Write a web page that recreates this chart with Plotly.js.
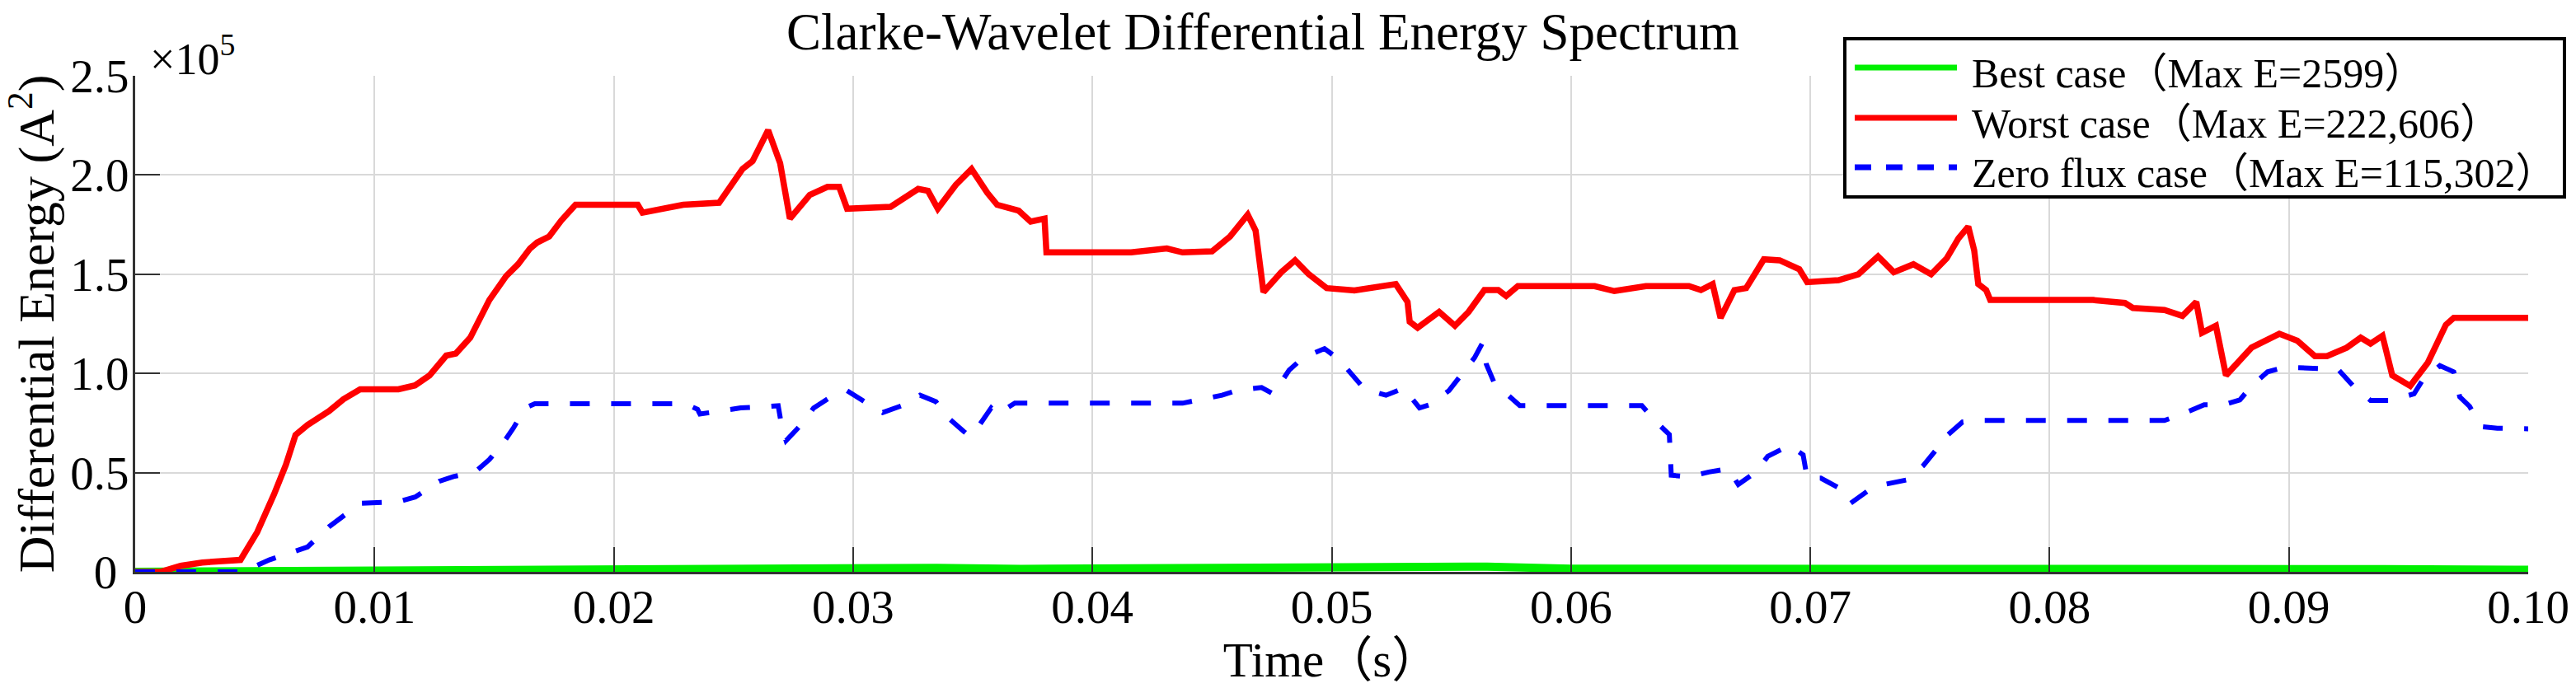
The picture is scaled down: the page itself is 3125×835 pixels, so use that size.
<!DOCTYPE html>
<html>
<head>
<meta charset="utf-8">
<script src="https://cdn.plot.ly/plotly-3.0.1.min.js"></script>
<style>html,body{margin:0;padding:0;background:#fff;}#chart{width:3125px;height:835px;}</style>
</head>
<body>
<div id="chart"></div>
<script>
// ---- Data (time in s, energy in units of 10^5 A^2) ----
const bestT = [0, 0.0025, 0.005, 0.013, 0.0135, 0.02, 0.025, 0.0335, 0.037, 0.045, 0.0537, 0.0565, 0.06, 0.07, 0.08, 0.09, 0.094, 0.1];
const bestE = [0, 0.002, 0.003, 0.005, 0.012, 0.013, 0.015, 0.02, 0.015, 0.016, 0.022, 0.026, 0.016, 0.018, 0.017, 0.015, 0.013, 0.01];

const worstT = [0, 0.00105, 0.0019, 0.0028, 0.0044, 0.0051, 0.0058, 0.0063, 0.0067, 0.0072,
  0.0081, 0.0087, 0.0094, 0.011, 0.0117, 0.0123, 0.013, 0.0134, 0.014, 0.0148,
  0.0155, 0.016, 0.0165, 0.0168, 0.0173, 0.0178, 0.0184, 0.021, 0.0212, 0.0229,
  0.0244, 0.02538, 0.0258, 0.02645, 0.02695, 0.02736, 0.02819, 0.02893, 0.02942, 0.02975,
  0.03157, 0.03272, 0.03313, 0.03354, 0.03429, 0.03495, 0.03561, 0.03602, 0.03692, 0.03742,
  0.038, 0.03808, 0.04162, 0.04311, 0.04377, 0.045, 0.04575, 0.04649, 0.04682, 0.04715,
  0.04789, 0.04847, 0.04904, 0.04979, 0.05095, 0.05194, 0.05268, 0.05317, 0.05326, 0.05359,
  0.05449, 0.05515, 0.05572, 0.05638, 0.05696, 0.05729, 0.05778, 0.06099, 0.06181, 0.06313,
  0.06493, 0.06543, 0.06592, 0.06625, 0.06683, 0.06732, 0.06806, 0.06872, 0.06954, 0.06987,
  0.07118, 0.07201, 0.07283, 0.07349, 0.07431, 0.07505, 0.0757, 0.07619, 0.0766, 0.07685,
  0.07702, 0.07735, 0.07752, 0.08182, 0.08315, 0.08348, 0.0848, 0.08555, 0.08613, 0.08637,
  0.08695, 0.08737, 0.08844, 0.0896, 0.09035, 0.09109, 0.09159, 0.09242, 0.093, 0.09341,
  0.09391, 0.09432, 0.09507, 0.09581, 0.09656, 0.09689, 0.1];
const worstE = [0, 0, 0.03, 0.047, 0.06, 0.2, 0.39, 0.54, 0.69, 0.74,
  0.81, 0.87, 0.92, 0.92, 0.94, 0.99, 1.09, 1.10, 1.18, 1.37,
  1.49, 1.55, 1.63, 1.66, 1.69, 1.77, 1.85, 1.85, 1.81, 1.85,
  1.86, 2.03, 2.07, 2.226, 2.06, 1.78, 1.90, 1.94, 1.94, 1.83,
  1.84, 1.93, 1.92, 1.83, 1.95, 2.03, 1.91, 1.85, 1.82, 1.765,
  1.78, 1.61, 1.61, 1.63, 1.61, 1.615, 1.69, 1.80, 1.72, 1.41,
  1.51, 1.57, 1.50, 1.43, 1.418, 1.44, 1.45, 1.36, 1.26, 1.23,
  1.31, 1.24, 1.31, 1.42, 1.42, 1.39, 1.44, 1.44, 1.415, 1.44,
  1.44, 1.42, 1.45, 1.28, 1.42, 1.43, 1.575, 1.57, 1.525, 1.46,
  1.47, 1.50, 1.59, 1.51, 1.55, 1.50, 1.58, 1.68, 1.74, 1.62,
  1.45, 1.42, 1.37, 1.37, 1.355, 1.33, 1.32, 1.29, 1.36, 1.205,
  1.24, 0.99, 1.13, 1.20, 1.165, 1.087, 1.087, 1.13, 1.18, 1.15,
  1.19, 0.99, 0.937, 1.055, 1.245, 1.28, 1.28];

const zeroT = [0, 0.0045, 0.0056, 0.0072, 0.0081, 0.0094, 0.011, 0.0117, 0.0127, 0.0133,
  0.0142, 0.0148, 0.0154, 0.0158, 0.0163, 0.0167, 0.023, 0.0235, 0.0236, 0.0245,
  0.0253, 0.02621, 0.02687, 0.02703, 0.0272, 0.02794, 0.02835, 0.02918, 0.02975, 0.03058,
  0.03124, 0.03214, 0.0328, 0.03346, 0.03387, 0.03462, 0.03486, 0.03519, 0.03577, 0.03602,
  0.03676, 0.04377, 0.04443, 0.04542, 0.04608, 0.04707, 0.04756, 0.04822, 0.0488, 0.0497,
  0.0503, 0.05095, 0.05137, 0.05227, 0.05301, 0.05367, 0.05408, 0.0549, 0.0554, 0.05597,
  0.0563, 0.05646, 0.05679, 0.05745, 0.05786, 0.06296, 0.06362, 0.06411, 0.06419, 0.06493,
  0.06576, 0.06658, 0.06699, 0.06773, 0.06822, 0.06913, 0.0697, 0.06987, 0.07044, 0.07118,
  0.07168, 0.0725, 0.07308, 0.07406, 0.07472, 0.0753, 0.0757, 0.07636, 0.07702, 0.0848,
  0.08555, 0.08646, 0.08728, 0.08795, 0.08844, 0.08911, 0.08985, 0.09142, 0.09209, 0.09275,
  0.09341, 0.09424, 0.09523, 0.09556, 0.09631, 0.09689, 0.09714, 0.09755, 0.09805, 0.09871,
  0.1];
const zeroE = [0, 0, 0.06, 0.125, 0.227, 0.345, 0.353, 0.377, 0.456, 0.48,
  0.503, 0.566, 0.653, 0.724, 0.826, 0.847, 0.847, 0.819, 0.795, 0.81,
  0.826, 0.831, 0.837, 0.726, 0.661, 0.756, 0.826, 0.89, 0.913, 0.85,
  0.803, 0.842, 0.89, 0.858, 0.787, 0.708, 0.685, 0.724, 0.826, 0.795,
  0.85, 0.85, 0.866, 0.89, 0.916, 0.929, 0.897, 1.016, 1.079, 1.125,
  1.071, 0.984, 0.921, 0.89, 0.926, 0.826, 0.842, 0.913, 0.992, 1.079,
  1.153, 1.047, 0.953, 0.882, 0.838, 0.838, 0.748, 0.692, 0.487, 0.479,
  0.503, 0.519, 0.44, 0.503, 0.582, 0.637, 0.59, 0.472, 0.472, 0.424,
  0.345, 0.416, 0.44, 0.464, 0.535, 0.621, 0.685, 0.755, 0.763, 0.763,
  0.795, 0.842, 0.842, 0.866, 0.937, 1.008, 1.032, 1.024, 1.016, 0.929,
  0.864, 0.864, 0.897, 0.961, 1.039, 1.008, 0.882, 0.834, 0.732, 0.724,
  0.721];

const seriesNames = ['Best case（Max E=2599）', 'Worst case（Max E=222,606）', 'Zero flux case（Max E=115,302）'];
const xTickVals = [0, 0.01, 0.02, 0.03, 0.04, 0.05, 0.06, 0.07, 0.08, 0.09, 0.1];
const xTickText = ['0', '0.01', '0.02', '0.03', '0.04', '0.05', '0.06', '0.07', '0.08', '0.09', '0.10'];
const yTickVals = [0, 0.5, 1.0, 1.5, 2.0, 2.5];
const yTickText = ['0\u00a0', '0.5', '1.0', '1.5', '2.0', '2.5'];

// ---- Styling ----
const FONT = 'Liberation Serif, Times New Roman, Noto Sans CJK SC, serif';
const colors = ['#00f000', '#ff0000', '#0000ff'];
const L = 164, R = 3067, T = 92, B = 694; // plot area in px
const px = v => (v - L) / (R - L);
const py = v => (B - v) / (B - T);

const traces = [
  {x: bestT, y: bestE, name: seriesNames[0], mode: 'lines', line: {color: colors[0], width: 10}},
  {x: worstT, y: worstE, name: seriesNames[1], mode: 'lines', line: {color: colors[1], width: 7.5}},
  {x: zeroT, y: zeroE, name: seriesNames[2], mode: 'lines', line: {color: colors[2], width: 6, dash: '24px,26px'}}
];

const legRows = [82, 143, 203];
const legText = [89, 150, 210];
const shapes = [{type: 'rect', xref: 'paper', yref: 'paper', x0: px(2238), x1: px(3111), y0: py(239), y1: py(47),
  line: {color: '#000', width: 4}, fillcolor: '#fff', layer: 'above'}];
const annotations = [];
traces.forEach((tr, i) => {
  shapes.push({type: 'line', xref: 'paper', yref: 'paper', x0: px(2250), x1: px(2374), y0: py(legRows[i]), y1: py(legRows[i]),
    line: {color: tr.line.color, width: 7, dash: tr.line.dash ? '20px,18px' : 'solid'}, layer: 'above'});
  annotations.push({xref: 'paper', yref: 'paper', x: px(2390), y: py(legText[i]), xanchor: 'left', yanchor: 'middle',
    text: tr.name, showarrow: false, font: {family: FONT, size: 50, color: '#000'}});
});
annotations.push({xref: 'paper', yref: 'paper', x: px(180), y: py(68), xanchor: 'left', yanchor: 'middle',
  text: '×10<sup>5</sup>', showarrow: false, font: {family: FONT, size: 54, color: '#000'}});

const axisCommon = {
  showline: true, linecolor: '#333', linewidth: 3, mirror: false,
  showgrid: true, gridcolor: '#d9d9d9', gridwidth: 2, zeroline: false,
  ticks: 'inside', ticklen: 30, tickwidth: 2, tickcolor: '#333',
  tickfont: {family: FONT, size: 57, color: '#000'}, automargin: false
};

const layout = {
  width: 3125, height: 835,
  margin: {l: L, r: 3125 - R, t: T, b: 835 - B},
  paper_bgcolor: '#fff', plot_bgcolor: '#fff',
  showlegend: false,
  title: {text: 'Clarke-Wavelet Differential Energy Spectrum', font: {family: FONT, size: 63, color: '#000'},
    x: 1532 / 3125, xref: 'container', xanchor: 'center', y: 1 - 38 / 835, yref: 'container', yanchor: 'middle'},
  xaxis: Object.assign({}, axisCommon, {range: [0, 0.1], tickmode: 'array', tickvals: xTickVals, ticktext: xTickText,
    ticklabelstandoff: -9,
    title: {text: 'Time（s）', font: {family: FONT, size: 59, color: '#000'}, standoff: 11}}),
  yaxis: Object.assign({}, axisCommon, {range: [0, 2.5], tickmode: 'array', tickvals: yTickVals, ticktext: yTickText,
    ticklabelstandoff: -7,
    title: {text: 'Differential Energy (A<sup>2</sup>)', font: {family: FONT, size: 62, color: '#000'}, standoff: 42}}),
  shapes: shapes,
  annotations: annotations
};

Plotly.newPlot('chart', traces, layout, {staticPlot: true, displayModeBar: false});
</script>
</body>
</html>
